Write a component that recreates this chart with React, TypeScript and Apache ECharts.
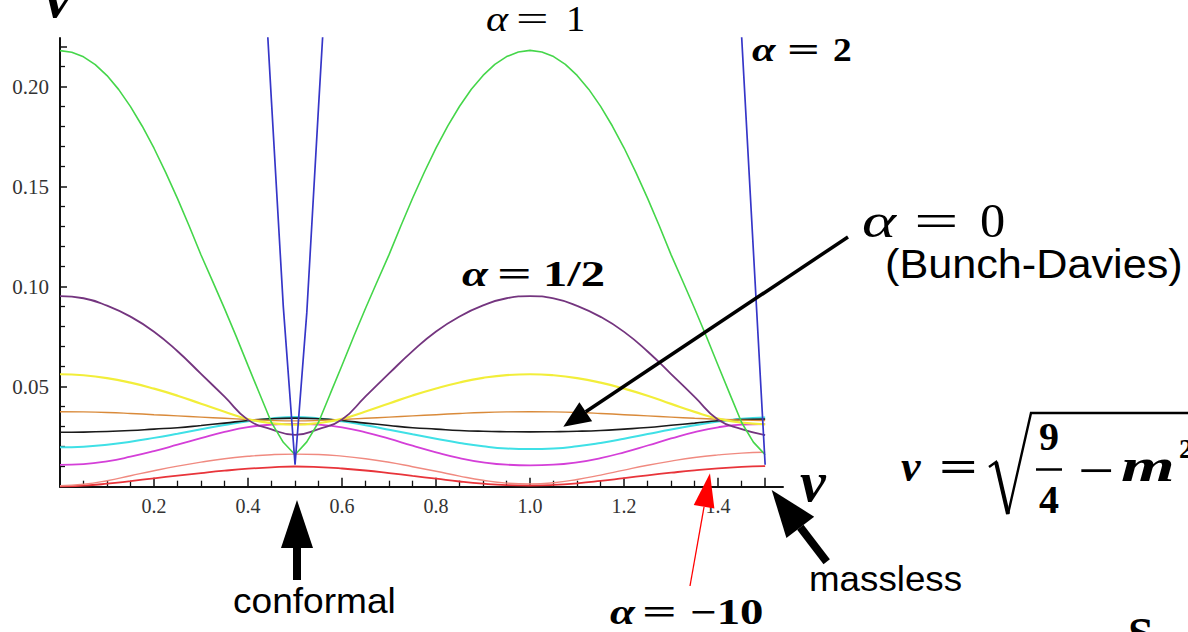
import React, { useEffect, useRef } from 'react';
import * as echarts from 'echarts';

// ν grid for the smooth curves (step 0.05)
const nu = [0, 0.05, 0.1, 0.15, 0.2, 0.25, 0.3, 0.35, 0.4, 0.45, 0.5, 0.55, 0.6, 0.65, 0.7, 0.75, 0.8, 0.85, 0.9, 0.95, 1.0,
  1.05, 1.1, 1.15, 1.2, 1.25, 1.3, 1.35, 1.4, 1.45, 1.5];
// finer ν grid for the cusped α = 1 curve (step 0.025)
const nuFine = [0, 0.025, 0.05, 0.075, 0.1, 0.125, 0.15, 0.175, 0.2, 0.225, 0.25, 0.275, 0.3, 0.325, 0.35, 0.375, 0.4, 0.425, 0.45, 0.475, 0.5,
  0.525, 0.55, 0.575, 0.6, 0.625, 0.65, 0.675, 0.7, 0.725, 0.75, 0.775, 0.8, 0.825, 0.85, 0.875, 0.9, 0.925, 0.95, 0.975, 1.0,
  1.025, 1.05, 1.075, 1.1, 1.125, 1.15, 1.175, 1.2, 1.225, 1.25, 1.275, 1.3, 1.325, 1.35, 1.375, 1.4, 1.425, 1.45, 1.475, 1.5];

const greenAlpha1 = [0.2180, 0.2172, 0.2149, 0.2110, 0.2055, 0.1985, 0.1900, 0.1802, 0.1692, 0.1570, 0.1440, 0.1302, 0.1158, 0.1025, 0.0890, 0.0750, 0.0605, 0.0462, 0.0320, 0.0222, 0.0160,
  0.0224, 0.0322, 0.0465, 0.0607, 0.0752, 0.0892, 0.1027, 0.1160, 0.1303, 0.1442, 0.1572, 0.1694, 0.1804, 0.1902, 0.1987, 0.2056, 0.2111, 0.2150, 0.2173, 0.2181,
  0.2173, 0.2150, 0.2111, 0.2056, 0.1986, 0.1901, 0.1803, 0.1693, 0.1571, 0.1441, 0.1303, 0.1159, 0.1026, 0.0891, 0.0751, 0.0606, 0.0463, 0.0321, 0.0223, 0.0160];

const purpleHalf = [0.0953, 0.0942, 0.0905, 0.0850, 0.0775, 0.0677, 0.0564, 0.0450, 0.0334, 0.0287, 0.0259,
  0.0288, 0.0336, 0.0452, 0.0566, 0.0678, 0.0776, 0.0851, 0.0906, 0.0942, 0.0953,
  0.0941, 0.0904, 0.0849, 0.0774, 0.0676, 0.0563, 0.0449, 0.0335, 0.0288, 0.0258];
const yellow = [0.0562, 0.0557, 0.0543, 0.0520, 0.0490, 0.0455, 0.0415, 0.0375, 0.0338, 0.0318, 0.0310,
  0.0318, 0.0339, 0.0376, 0.0416, 0.0456, 0.0491, 0.0521, 0.0544, 0.0558, 0.0562,
  0.0557, 0.0543, 0.0520, 0.0490, 0.0455, 0.0414, 0.0374, 0.0340, 0.0320, 0.0312];
const orange = [0.0375, 0.0374, 0.0371, 0.0366, 0.0360, 0.0354, 0.0348, 0.0342, 0.0336, 0.0331, 0.0329,
  0.0331, 0.0336, 0.0342, 0.0348, 0.0354, 0.0360, 0.0366, 0.0371, 0.0374, 0.0375,
  0.0374, 0.0371, 0.0366, 0.0360, 0.0354, 0.0348, 0.0342, 0.0337, 0.0333, 0.0331];
const blackBD = [0.0272, 0.0273, 0.0276, 0.0281, 0.0288, 0.0295, 0.0306, 0.0318, 0.0331, 0.0340, 0.0343,
  0.0340, 0.0331, 0.0318, 0.0306, 0.0295, 0.0288, 0.0281, 0.0277, 0.0275, 0.0274,
  0.0275, 0.0277, 0.0281, 0.0288, 0.0296, 0.0307, 0.0318, 0.0330, 0.0336, 0.0338];
const cyan = [0.0197, 0.0200, 0.0210, 0.0225, 0.0244, 0.0265, 0.0287, 0.0308, 0.0327, 0.0341, 0.0348,
  0.0341, 0.0327, 0.0307, 0.0285, 0.0262, 0.0240, 0.0219, 0.0202, 0.0191, 0.0188,
  0.0191, 0.0202, 0.0219, 0.0240, 0.0263, 0.0286, 0.0307, 0.0326, 0.0340, 0.0346];
const magenta = [0.0109, 0.0113, 0.0127, 0.0150, 0.0178, 0.0210, 0.0243, 0.0274, 0.0298, 0.0310, 0.0314,
  0.0310, 0.0297, 0.0272, 0.0240, 0.0205, 0.0172, 0.0143, 0.0122, 0.0110, 0.0107,
  0.0110, 0.0122, 0.0143, 0.0172, 0.0206, 0.0241, 0.0273, 0.0297, 0.0310, 0.0313];
const pink = [0.0005, 0.0012, 0.0030, 0.0055, 0.0080, 0.0103, 0.0123, 0.0140, 0.0152, 0.0160, 0.0163,
  0.0161, 0.0153, 0.0140, 0.0122, 0.0100, 0.0077, 0.0053, 0.0032, 0.0018, 0.0014,
  0.0020, 0.0036, 0.0058, 0.0083, 0.0107, 0.0128, 0.0146, 0.0159, 0.0168, 0.0172];
const redM10 = [0.0000, 0.0005, 0.0015, 0.0028, 0.0042, 0.0055, 0.0068, 0.0080, 0.0090, 0.0097, 0.0101,
  0.0098, 0.0091, 0.0081, 0.0068, 0.0054, 0.0040, 0.0026, 0.0015, 0.0008, 0.0006,
  0.0009, 0.0017, 0.0029, 0.0043, 0.0057, 0.0070, 0.0082, 0.0092, 0.0099, 0.0103];

// α = 2 (steep V's near ν = 1/2 and ν = 3/2, leaving the frame)
const blueLeftNu = [0.425, 0.45, 0.475, 0.5, 0.525, 0.55, 0.575];
const blueLeft = [0.295, 0.192, 0.090, 0.011, 0.087, 0.190, 0.290];
const blueRightNu = [1.425, 1.45, 1.475, 1.5];
const blueRight = [0.332, 0.225, 0.118, 0.011];

const xTickLabels = ['0.2', '0.4', '0.6', '0.8', '1.0', '1.2', '1.4'];
const yTickLabels = ['0.05', '0.10', '0.15', '0.20'];

const pairs = (xs: number[], ys: number[]) => xs.map((x, i) => [x, ys[i]]);

const SERIF = "'Liberation Serif', 'DejaVu Serif', serif";
const SANS = "'Liberation Sans', Arial, sans-serif";

type TO = { fw?: string; fs?: string; ff?: string; fill?: string; align?: string; sx?: number };
const T = (text: string, x: number, base: number, size: number, o: TO = {}) => ({
  type: 'text',
  x,
  y: base - 0.34 * size,
  z: 100,
  scaleX: o.sx ?? 1,
  style: {
    text,
    fontSize: size,
    fontFamily: o.ff ?? SERIF,
    fontWeight: o.fw ?? 'normal',
    fontStyle: o.fs ?? 'normal',
    fill: o.fill ?? '#000',
    align: o.align ?? 'left',
    verticalAlign: 'middle',
    textAlign: o.align ?? 'left',
    textVerticalAlign: 'middle',
  },
});

// α = value, with each glyph placed and stretched to the reference's math spacing
const eq = (xa: number, xe: number, xv: number, base: number, size: number, val: string, fw: string,
  sxA: number, sxE: number, sxV: number) => [
  T('α', xa, base, size, { fs: 'italic', fw, sx: sxA }),
  T('=', xe, base, size, { fw, sx: sxE }),
  T(val, xv, base, size, { fw, sx: sxV }),
];

const arrow = (tip: [number, number], tail: [number, number], headLen: number, headHalf: number, shaftW: number, color: string) => {
  const dx = tail[0] - tip[0];
  const dy = tail[1] - tip[1];
  const L = Math.hypot(dx, dy);
  const ux = dx / L, uy = dy / L;
  const bx = tip[0] + ux * headLen, by = tip[1] + uy * headLen;
  const px = -uy, py = ux;
  return [
    { type: 'line', z: 100, shape: { x1: bx, y1: by, x2: tail[0], y2: tail[1] }, style: { stroke: color, lineWidth: shaftW } },
    {
      type: 'polygon', z: 101,
      shape: { points: [tip, [bx + px * headHalf, by + py * headHalf], [bx - px * headHalf, by - py * headHalf]] },
      style: { fill: color },
    },
  ];
};

const line = (name: string, xs: number[], ys: number[], color: string, width: number, smooth: boolean) => ({
  name, type: 'line', xAxisIndex: 0, yAxisIndex: 0, data: pairs(xs, ys), symbol: 'none', smooth,
  lineStyle: { color, width }, itemStyle: { color }, clip: true, z: 3,
});

export default function App() {
  const ref = useRef<HTMLDivElement>(null);
  useEffect(() => {
    const chart = echarts.init(ref.current!, undefined, { renderer: 'svg' });
    const option: any = {
      animation: false,
      backgroundColor: '#fff',
      grid: [
        { left: 60, top: 38, width: 723, height: 448.7 },
        { left: 60, top: 46.7, width: 705, height: 440 },
      ],
      xAxis: [
        {
          gridIndex: 0, type: 'value', min: 0, max: 1.538,
          axisLine: { show: true, lineStyle: { color: '#111', width: 2 } },
          axisTick: { show: false }, axisLabel: { show: false }, splitLine: { show: false },
        },
        {
          gridIndex: 1, type: 'value', min: 0, max: 1.5, interval: 0.2,
          axisLine: { show: false },
          axisTick: { show: true, inside: true, length: 9, lineStyle: { color: '#111', width: 1.5 } },
          minorTick: { show: true, splitNumber: 4, length: 6, lineStyle: { color: '#111', width: 1.3 } },
          splitLine: { show: false },
          axisLabel: {
            margin: 9, fontFamily: SERIF, fontSize: 20, color: '#333',
            formatter: (v: number) => {
              const s = v.toFixed(1);
              return xTickLabels.includes(s) && Math.abs(v - Number(s)) < 1e-6 ? s : '';
            },
          },
        },
      ],
      yAxis: [
        {
          gridIndex: 0, type: 'value', min: 0, max: 0.2243,
          axisLine: { show: true, lineStyle: { color: '#111', width: 2 } },
          axisTick: { show: false }, axisLabel: { show: false }, splitLine: { show: false },
        },
        {
          gridIndex: 1, type: 'value', min: 0, max: 0.22, interval: 0.05,
          axisLine: { show: false },
          axisTick: { show: true, inside: true, length: 7, lineStyle: { color: '#111', width: 1.5 } },
          minorTick: { show: true, splitNumber: 5, length: 5, lineStyle: { color: '#111', width: 1.3 } },
          splitLine: { show: false },
          axisLabel: {
            margin: 11, fontFamily: SERIF, fontSize: 21, color: '#333',
            formatter: (v: number) => {
              const s = v.toFixed(2);
              return yTickLabels.includes(s) && Math.abs(v - Number(s)) < 1e-6 ? s : '';
            },
          },
        },
      ],
      series: [
        line('α=-10', nu, redM10, '#e8343a', 1.8, true),
        line('pink', nu, pink, '#f08a80', 1.4, true),
        line('magenta', nu, magenta, '#d43fd8', 1.8, true),
        line('cyan', nu, cyan, '#3fe0e6', 2, true),
        line('α=0', nu, blackBD, '#1a1a1a', 1.6, true),
        line('orange', nu, orange, '#d98a3a', 1.4, true),
        line('yellow', nu, yellow, '#f2ee3a', 2.2, true),
        line('α=1/2', nu, purpleHalf, '#74357f', 1.8, true),
        line('α=1', nuFine, greenAlpha1, '#45d64a', 1.6, false),
        line('α=2', blueLeftNu, blueLeft, '#3636c8', 1.7, false),
        line('α=2 b', blueRightNu, blueRight, '#3636c8', 1.7, false),
      ],
      graphic: [
        // axis variable labels
        T('ν', 45, 17, 58, { fw: 'bold', fs: 'italic' }),
        T('ν', 800, 501, 58, { fw: 'bold', fs: 'italic' }),
        // α labels
        ...eq(486, 516, 566, 31, 35, '1', 'normal', 1.2, 1.65, 1.1),
        ...eq(752, 787, 833, 61, 34, '2', 'bold', 1.25, 1.7, 1.1),
        ...eq(462, 497, 543, 286, 36, '1/2', 'bold', 1.3, 1.7, 1.35),
        ...eq(862, 914, 980, 237, 48, '0', 'normal', 1.35, 1.65, 1.05),
        ...eq(610, 642, 690, 624, 36, '−10', 'bold', 1.25, 1.7, 1.3),
        T('(Bunch-Davies)', 885, 278, 40, { ff: SANS, sx: 1.08 }),
        T('conformal', 233, 613, 35, { ff: SANS, sx: 1.06 }),
        T('massless', 809, 591, 35, { ff: SANS, sx: 1.05 }),
        // formula ν = sqrt(9/4 - m^2)
        T('ν', 901, 481, 44, { fw: 'bold', fs: 'italic' }),
        T('=', 939, 481, 44, { fw: 'bold', sx: 1.55 }),
        { type: 'polyline', z: 100, shape: { points: [[989, 467], [996, 462], [1008, 514], [1031, 413], [1188, 413]] }, style: { stroke: '#000', lineWidth: 2.4, fill: null } },
        { type: 'line', z: 100, shape: { x1: 996, y1: 462, x2: 1008, y2: 514 }, style: { stroke: '#000', lineWidth: 4 } },
        T('9', 1049, 450, 40, { fw: 'bold', align: 'center' }),
        { type: 'line', z: 100, shape: { x1: 1036, y1: 469.5, x2: 1062, y2: 469.5 }, style: { stroke: '#000', lineWidth: 2.5 } },
        T('4', 1049, 513, 40, { fw: 'bold', align: 'center' }),
        T('−', 1078, 484, 40, { fw: 'bold', sx: 1.6 }),
        T('m', 1121, 481, 46, { fw: 'bold', fs: 'italic', sx: 1.5 }),
        T('2', 1179, 458, 28, { fw: 'bold' }),
        T('S', 1128, 650, 46, { fw: 'bold' }),
        // arrows
        ...arrow([563.3, 426.7], [848, 237], 27, 11.5, 3.5, '#000'),
        ...arrow([297, 500], [297, 580], 48, 16, 8, '#000'),
        ...arrow([771.7, 490], [826.7, 561.7], 47, 17.5, 8, '#000'),
        ...arrow([710, 473.3], [690, 586], 34, 10.5, 1.3, '#ff0000'),
      ],
    };
    chart.setOption(option);
    return () => chart.dispose();
  }, []);
  return <div ref={ref} style={{ position: 'absolute', left: 0, top: 0, width: 1188, height: 632, background: '#fff' }} />;
}
